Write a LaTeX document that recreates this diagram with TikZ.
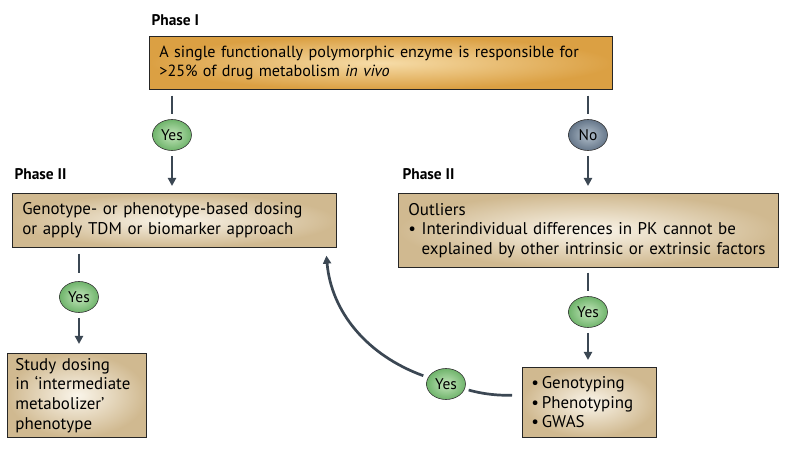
\documentclass[tikz,border=0pt]{standalone}
\usepackage{fontspec}
\setmainfont{PT Sans}
\usetikzlibrary{shapes.geometric}
\usetikzlibrary{positioning}
\usetikzlibrary{arrows.meta}
\usepackage{xcolor}
\definecolor{arrowgrey}{HTML}{3B4753}
\definecolor{orangelight}{HTML}{F6DCA8}
\definecolor{orangedark}{HTML}{DBA043}
\definecolor{tanlight}{HTML}{FAF5EA}
\definecolor{tandark}{HTML}{D0B990}
\definecolor{greenlight}{HTML}{C4E6BC}
\definecolor{greendark}{HTML}{6FB46B}
\definecolor{bluelight}{HTML}{B3C0CC}
\definecolor{bluedark}{HTML}{66778A}
\newcommand{\boxfont}{\fontsize{17}{19.7}\selectfont}
\newcommand{\phasefont}{\fontsize{15.5}{17}\selectfont\bfseries}

\begin{document}
\begin{tikzpicture}[x=1bp,y=1bp]
            % decision flow for pharmacogenetic study design
            \tikzset{
                tanbox/.style={draw=black!85, line width=0.7pt, rectangle, anchor=north west, align=left, inner xsep=10bp, font=\boxfont, inner color=tanlight, outer color=tandark},
                answer/.style={draw=black!80, line width=0.6pt, ellipse, minimum width=39bp, minimum height=31bp, inner sep=0pt, font=\fontsize{15.5}{16}\selectfont},
                yesnode/.style={answer, inner color=greenlight, outer color=greendark},
                nonode/.style={answer, inner color=bluelight, outer color=bluedark},
                flow/.style={draw=arrowgrey, line width=2.7bp},
                flowarrow/.style={flow, -{Triangle[length=8bp,width=8bp]}},
            }
            \useasboundingbox (0,0) rectangle (789,-463);

            \node[font=\phasefont, anchor=west] (phasei) at (148,-20) {Phase I};
            \node[tanbox, text width=443bp, minimum height=53bp, font=\fontsize{16.2}{19.7}\selectfont, inner color=orangelight, outer color=orangedark] (single) at (149,-36) {A single functionally polymorphic enzyme is responsible for\\>25\% of drug metabolism \textit{in vivo}};

            \node[yesnode] (yesa) at (172,-135) {Yes};
            \node[nonode] (noa) at (588,-135) {No};

            \node[font=\phasefont, anchor=west] (phaseiia) at (11,-174) {Phase II};
            \node[font=\phasefont, anchor=west] (phaseiib) at (399,-174) {Phase II};

            \node[tanbox, text width=304bp, minimum height=54bp] (geno) at (12,-193) {Genotype- or phenotype-based dosing\\or apply TDM or biomarker approach};
            \node[tanbox, text width=360bp, minimum height=74bp] (outliers) at (398,-193) {Outliers\\\textbullet\ Interindividual differences in PK cannot be\\\phantom{\textbullet\ }explained by other intrinsic or extrinsic factors};

            \node[yesnode] (yesb) at (79,-297) {Yes};
            \node[yesnode] (yesc) at (588,-312) {Yes};
            \node[yesnode] (yesd) at (446,-384) {Yes};

            \node[tanbox, text width=123bp, minimum height=84bp, inner xsep=8bp] (study) at (7,-353) {Study dosing\\in ‘intermediate\\metabolizer’\\phenotype};
            \node[tanbox, text width=116bp, minimum height=70bp, inner xsep=9bp] (gwas) at (522,-367) {\textbullet\,Genotyping\\\textbullet\,Phenotyping\\\textbullet\,GWAS};

            \draw[flow, shorten <=6bp, shorten >=5bp] (single.south -| yesa) -- (yesa);
            \draw[flowarrow, shorten <=5bp, shorten >=7bp] (yesa) -- (yesa |- geno.north);
            \draw[flow, shorten <=6bp, shorten >=5bp] (single.south -| noa) -- (noa);
            \draw[flowarrow, shorten <=5bp, shorten >=7bp] (noa) -- (noa |- outliers.north);

            \draw[flow, shorten <=6bp, shorten >=8bp] (geno.south -| yesb) -- (yesb);
            \draw[flowarrow, shorten <=5bp, shorten >=9bp] (yesb) -- (yesb |- study.north);
            \draw[flow, shorten <=5bp, shorten >=5bp] (outliers.south -| yesc) -- (yesc);
            \draw[flowarrow, shorten <=5bp, shorten >=7bp] (yesc) -- (yesc |- gwas.north);

            \draw[flow, shorten <=10bp, shorten >=4bp] ([yshift=7bp]gwas.west) to[out=180, in=-15] (yesd);
            \draw[flowarrow, shorten <=5bp, shorten >=8bp] (yesd) to[out=160, in=-85] ([xshift=-11bp]geno.south east);
        \end{tikzpicture}
\end{document}
